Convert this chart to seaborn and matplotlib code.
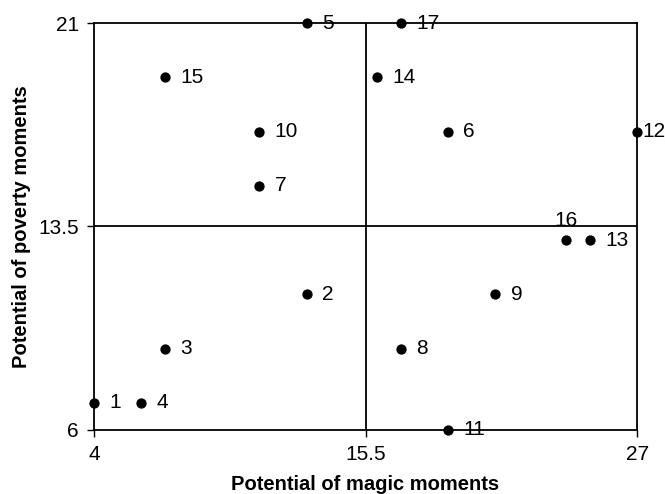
import matplotlib
matplotlib.use("Agg")
import matplotlib.pyplot as plt
import seaborn as sns
import pandas as pd

# data
ids = [1, 2, 3, 4, 5, 6, 7, 8, 9, 10, 11, 12, 13, 14, 15, 16, 17]
magic = [4, 13, 7, 6, 13, 19, 11, 17, 21, 11, 19, 27, 25, 16, 7, 24, 17]
poverty = [7, 11, 9, 7, 21, 17, 15, 9, 11, 17, 6, 17, 13, 19, 19, 13, 21]

x_ticks = [4, 15.5, 27]
y_ticks = [6, 13.5, 21]

df = pd.DataFrame({"id": ids, "magic": magic, "poverty": poverty})

sns.set_theme(style="white")
plt.rcParams["font.family"] = ["Liberation Sans", "DejaVu Sans"]
plt.rcParams["text.color"] = "black"
plt.rcParams["axes.labelcolor"] = "black"

fig = plt.figure(figsize=(6.65, 4.94), dpi=100)
ax = fig.add_axes([0.1414, 0.1296, 0.8166, 0.8238])

# quadrant lines
ax.axvline(15.5, color="black", lw=1.3, zorder=1)
ax.axhline(13.5, color="black", lw=1.3, zorder=1)

sns.scatterplot(data=df, x="magic", y="poverty", ax=ax, color="black",
                s=55, edgecolor="black", linewidth=0, clip_on=False, zorder=3)

for _, r in df.iterrows():
    if r["id"] == 16:
        # label sits above the point
        ax.annotate(str(r["id"]), (r["magic"], r["poverty"]), xytext=(0, 7),
                    textcoords="offset points", ha="center", va="bottom",
                    fontsize=15, color="black", annotation_clip=False)
    else:
        # 12 sits on the right edge, label squeezed close to the point
        dx = 4 if r["id"] == 12 else 11
        ax.annotate(str(r["id"]), (r["magic"], r["poverty"]), xytext=(dx, 0),
                    textcoords="offset points", ha="left", va="center",
                    fontsize=15, color="black", annotation_clip=False)

ax.set_xlim(4, 27)
ax.set_ylim(6, 21)
ax.set_xticks(x_ticks)
ax.set_xticklabels(["4", "15.5", "27"])
ax.set_yticks(y_ticks)
ax.set_yticklabels(["6", "13.5", "21"])
ax.tick_params(axis="both", direction="out", length=5, width=1, colors="black",
               labelsize=15, bottom=True, left=True, pad=6)
for sp in ax.spines.values():
    sp.set_color("black")
    sp.set_linewidth(1.3)

ax.set_xlabel("Potential of magic moments", fontsize=14.5, fontweight="bold", labelpad=8)
ax.set_ylabel("Potential of poverty moments", fontsize=14.5, fontweight="bold", labelpad=5)

fig.savefig("out.png", dpi=100)
